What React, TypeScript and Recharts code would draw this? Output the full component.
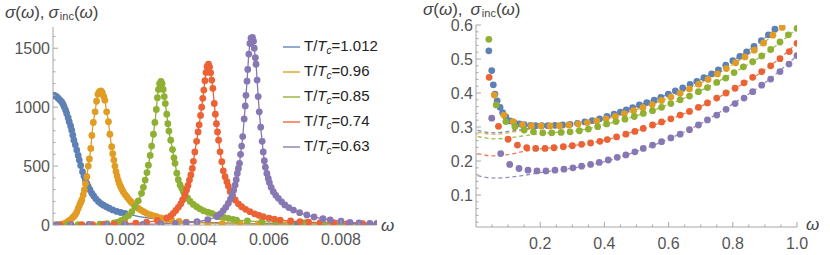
import React from 'react';
import { ComposedChart, Line, Scatter, XAxis, YAxis } from 'recharts';

const BLUE = '#5E81B5';
const ORANGE = '#E19C24';
const GREEN = '#8FB032';
const RED = '#EB6235';
const PURPLE = '#8778B3';
const AXIS = '#a6a6a6';
const LABEL = '#555555';
const FONT = '"Liberation Sans", Arial, sans-serif';

const temps = ['1.012', '0.96', '0.85', '0.74', '0.63'];
const colors = [BLUE, ORANGE, GREEN, RED, PURPLE];

// left panel: [omega, sigma]
const blueDots = [
  [0.00001, 1102], [0.00005, 1098], [0.0001, 1088], [0.00015, 1074], [0.0002, 1058], [0.00024, 1045],
  [0.00028, 1025], [0.00031, 1003], [0.00035, 975], [0.00038, 946], [0.00042, 910], [0.00045, 876],
  [0.00049, 840], [0.00052, 805], [0.00055, 762], [0.00058, 720], [0.00062, 680], [0.00066, 636],
  [0.0007, 590], [0.00073, 551], [0.00077, 505], [0.00082, 452], [0.00086, 415], [0.0009, 382],
  [0.00094, 353], [0.00098, 325], [0.00103, 297], [0.00108, 269], [0.00113, 246], [0.00119, 222],
  [0.00126, 200], [0.00133, 182], [0.0014, 168], [0.00148, 155], [0.00156, 142], [0.00166, 128],
  [0.00177, 115], [0.00188, 106], [0.002, 99], [0.0068, 9], [0.0085, 4],
];
const blueLineOnly = [
  [0.0023, 78], [0.0027, 58], [0.003, 45], [0.0035, 32], [0.004, 25], [0.0045, 19], [0.005, 15],
  [0.0055, 12], [0.006, 10.5], [0.0075, 7], [0.008, 5], [0.009, 3.5],
];
const orangeDots = [
  [0.00005, 1], [0.00015, 3], [0.00025, 8], [0.00035, 18], [0.00042, 30], [0.00047, 42], [0.00053, 58],
  [0.00058, 72], [0.00062, 88], [0.00066, 110], [0.0007, 141], [0.00074, 170], [0.00077, 190],
  [0.0008, 212], [0.00084, 255], [0.00087, 297], [0.0009, 350], [0.00094, 410], [0.00098, 500],
  [0.00101, 560], [0.00105, 650], [0.00108, 760], [0.00112, 870], [0.00117, 960], [0.00121, 1050],
  [0.00125, 1110], [0.00129, 1132], [0.00133, 1138], [0.00137, 1122], [0.00141, 1090], [0.00144, 1059],
  [0.00149, 960], [0.00154, 876], [0.00158, 770], [0.00163, 664], [0.00166, 605], [0.00169, 551],
  [0.00172, 500], [0.00175, 452], [0.00178, 415], [0.00181, 381], [0.00184, 352], [0.00188, 325],
  [0.00191, 305], [0.00195, 282], [0.002, 258], [0.00205, 240], [0.0021, 220], [0.00215, 202],
  [0.00219, 189], [0.00224, 174], [0.0023, 158], [0.00237, 141], [0.00244, 127], [0.00252, 113],
  [0.0026, 99], [0.0027, 88], [0.0028, 78], [0.00288, 71], [0.003, 60], [0.00316, 45], [0.0033, 38],
  [0.0035, 30], [0.0037, 25], [0.004, 20], [0.0043, 16], [0.0047, 12], [0.0052, 10], [0.0057, 8],
  [0.0065, 6], [0.0075, 4.5], [0.0085, 3],
];
const greenDots = [
  [0.0001, 1], [0.0004, 2], [0.0007, 3], [0.001, 5], [0.0013, 8], [0.0015, 12], [0.0017, 18],
  [0.0018, 25], [0.0019, 38], [0.002, 57], [0.0021, 80], [0.00219, 113], [0.00228, 155], [0.00237, 205],
  [0.00246, 269], [0.00251, 320], [0.00256, 381], [0.00261, 445], [0.00265, 508], [0.0027, 590],
  [0.00274, 670], [0.00279, 770], [0.00283, 870], [0.00287, 980], [0.0029, 1080], [0.00293, 1150],
  [0.00296, 1200], [0.003, 1218], [0.00303, 1200], [0.00306, 1150], [0.00309, 1090], [0.00312, 1030],
  [0.00316, 940], [0.00319, 860], [0.00322, 797], [0.00327, 720], [0.00332, 640], [0.00336, 570],
  [0.00339, 523], [0.00344, 440], [0.00348, 385], [0.00353, 340], [0.00358, 310], [0.00362, 285],
  [0.00367, 258], [0.00374, 228], [0.00381, 200], [0.0039, 175], [0.00399, 155], [0.00408, 137],
  [0.00418, 121], [0.0043, 108], [0.00441, 99], [0.00452, 83], [0.00464, 71], [0.00475, 64],
  [0.00487, 57], [0.005, 48], [0.0051, 42], [0.0054, 35], [0.0058, 29], [0.0062, 25], [0.0066, 22],
  [0.007, 19], [0.0075, 16], [0.008, 14], [0.0085, 12], [0.009, 11],
];
const redDots = [
  [0.0002, 1], [0.0005, 2], [0.0008, 3], [0.0011, 4], [0.0014, 6], [0.0017, 8], [0.002, 11], [0.0023, 16],
  [0.0026, 24], [0.0029, 38], [0.00316, 60], [0.00327, 78], [0.00334, 99], [0.00341, 124], [0.00348, 150],
  [0.00355, 180], [0.0036, 212], [0.00366, 252], [0.00371, 297], [0.00375, 335], [0.00379, 381],
  [0.00383, 425], [0.00387, 480], [0.0039, 540], [0.00394, 620], [0.00399, 710], [0.00403, 790],
  [0.00406, 850], [0.0041, 930], [0.00413, 1000], [0.00416, 1075], [0.00419, 1145], [0.00422, 1225],
  [0.00425, 1295], [0.00428, 1345], [0.00432, 1364], [0.00435, 1340], [0.00438, 1291], [0.00441, 1230],
  [0.00444, 1160], [0.00448, 1031], [0.00451, 940], [0.00454, 860], [0.00457, 790], [0.0046, 720],
  [0.00464, 621], [0.00469, 537], [0.00473, 460], [0.00478, 410], [0.00483, 367], [0.00487, 330],
  [0.00492, 285], [0.00499, 245], [0.00506, 212], [0.00515, 180], [0.00524, 155], [0.00535, 133],
  [0.00547, 113], [0.0056, 95], [0.00572, 82], [0.00584, 71], [0.006, 58], [0.00615, 50], [0.00631, 42],
  [0.0066, 34], [0.00686, 28], [0.0071, 24], [0.00742, 20], [0.0078, 17], [0.0082, 14], [0.0086, 12],
  [0.009, 10],
];
const purpleDots = [
  [0.0001, 0], [0.0005, 1], [0.001, 2], [0.0015, 3], [0.002, 4], [0.0025, 6], [0.003, 9], [0.0034, 14],
  [0.0037, 20], [0.004, 28], [0.0043, 45], [0.00455, 72], [0.00465, 95], [0.00473, 122], [0.0048, 150],
  [0.00487, 184], [0.00493, 220], [0.00498, 254], [0.00502, 295], [0.00506, 339], [0.00509, 385],
  [0.00512, 438], [0.00515, 480], [0.00518, 523], [0.00521, 600], [0.00524, 670], [0.00527, 750],
  [0.00531, 900], [0.00534, 1010], [0.00536, 1100], [0.00539, 1220], [0.00541, 1320], [0.00544, 1450],
  [0.00547, 1540], [0.0055, 1585], [0.00554, 1592], [0.00557, 1560], [0.00559, 1500], [0.00562, 1420],
  [0.00564, 1364], [0.00567, 1230], [0.0057, 1090], [0.00573, 960], [0.00577, 830], [0.00581, 710],
  [0.00584, 620], [0.00587, 545], [0.0059, 490], [0.00594, 438], [0.00598, 395], [0.00601, 360],
  [0.00606, 320], [0.00612, 282], [0.00619, 252], [0.00626, 226], [0.00635, 197], [0.00644, 170],
  [0.00655, 148], [0.00668, 127], [0.00685, 105], [0.00705, 85], [0.00725, 68], [0.0075, 53],
  [0.0077, 43], [0.008, 32], [0.00825, 22], [0.0085, 17], [0.0088, 14], [0.009, 12],
];

// right panel: [omega, sigma]
const blueDotsR = [
  [0.04, 0.524], [0.049, 0.466], [0.054, 0.424], [0.059, 0.397], [0.066, 0.377], [0.075, 0.358],
  [0.083, 0.342], [0.093, 0.33], [0.106, 0.318], [0.12, 0.312], [0.135, 0.309], [0.15, 0.307],
  [0.17, 0.305], [0.186, 0.304], [0.205, 0.304], [0.224, 0.304], [0.246, 0.305], [0.27, 0.306],
  [0.293, 0.308], [0.316, 0.311], [0.339, 0.315], [0.362, 0.319], [0.385, 0.324], [0.408, 0.331],
  [0.43, 0.338], [0.45, 0.344], [0.468, 0.35], [0.488, 0.357], [0.509, 0.365], [0.532, 0.372],
  [0.555, 0.379], [0.576, 0.387], [0.599, 0.397], [0.621, 0.406], [0.644, 0.415], [0.667, 0.425],
  [0.688, 0.434], [0.71, 0.445], [0.734, 0.456], [0.755, 0.468], [0.778, 0.482], [0.8, 0.495],
  [0.822, 0.508], [0.843, 0.521], [0.866, 0.537], [0.889, 0.554], [0.911, 0.571], [0.931, 0.588],
];
const orangeDotsR = [
  [0.057, 0.394], [0.087, 0.335], [0.116, 0.316], [0.145, 0.306], [0.173, 0.304], [0.202, 0.303],
  [0.231, 0.303], [0.26, 0.304], [0.289, 0.306], [0.318, 0.309], [0.347, 0.313], [0.376, 0.318],
  [0.405, 0.324], [0.434, 0.331], [0.462, 0.339], [0.491, 0.348], [0.52, 0.357], [0.549, 0.366],
  [0.578, 0.378], [0.607, 0.388], [0.636, 0.399], [0.665, 0.412], [0.694, 0.426], [0.723, 0.44],
  [0.752, 0.456], [0.78, 0.472], [0.809, 0.489], [0.838, 0.506], [0.867, 0.526], [0.896, 0.547],
  [0.925, 0.57], [0.954, 0.593],
];
const greenDotsR = [
  [0.04, 0.558], [0.063, 0.365], [0.093, 0.316], [0.121, 0.301], [0.15, 0.291], [0.179, 0.286],
  [0.208, 0.283], [0.236, 0.283], [0.265, 0.284], [0.293, 0.286], [0.322, 0.289], [0.35, 0.294],
  [0.379, 0.301], [0.407, 0.309], [0.436, 0.316], [0.464, 0.323], [0.493, 0.331], [0.521, 0.34],
  [0.55, 0.348], [0.578, 0.358], [0.607, 0.369], [0.636, 0.38], [0.665, 0.391], [0.693, 0.404],
  [0.721, 0.416], [0.75, 0.431], [0.778, 0.444], [0.804, 0.46], [0.833, 0.477], [0.862, 0.492],
  [0.89, 0.509], [0.918, 0.528], [0.947, 0.55], [0.973, 0.571], [1.0, 0.59],
];
const redDotsR = [
  [0.041, 0.446], [0.07, 0.302], [0.1, 0.264], [0.129, 0.247], [0.158, 0.239], [0.186, 0.237],
  [0.215, 0.237], [0.243, 0.239], [0.272, 0.242], [0.3, 0.245], [0.329, 0.249], [0.357, 0.253],
  [0.386, 0.258], [0.409, 0.263], [0.438, 0.271], [0.467, 0.279], [0.495, 0.287], [0.521, 0.296],
  [0.55, 0.306], [0.578, 0.315], [0.607, 0.324], [0.636, 0.335], [0.665, 0.346], [0.693, 0.358],
  [0.721, 0.371], [0.75, 0.385], [0.779, 0.4], [0.807, 0.414], [0.835, 0.43], [0.862, 0.446],
  [0.89, 0.463], [0.918, 0.48], [0.947, 0.501], [0.976, 0.522], [1.0, 0.546],
];
const purpleDotsR = [
  [0.049, 0.326], [0.077, 0.222], [0.105, 0.19], [0.134, 0.178], [0.162, 0.173], [0.19, 0.171],
  [0.218, 0.171], [0.246, 0.173], [0.274, 0.176], [0.302, 0.18], [0.329, 0.185], [0.357, 0.19],
  [0.384, 0.196], [0.412, 0.203], [0.44, 0.211], [0.467, 0.218], [0.495, 0.227], [0.521, 0.237],
  [0.55, 0.247], [0.578, 0.257], [0.607, 0.268], [0.636, 0.279], [0.665, 0.292], [0.693, 0.306],
  [0.721, 0.321], [0.75, 0.335], [0.779, 0.352], [0.807, 0.369], [0.835, 0.385], [0.862, 0.404],
  [0.89, 0.423], [0.918, 0.441], [0.947, 0.463], [0.975, 0.485], [1.0, 0.51],
];

// right panel dashed fits
const blueFit = [
  [0.005, 0.291], [0.03, 0.285], [0.06, 0.283], [0.1, 0.287], [0.15, 0.294], [0.2, 0.3], [0.25, 0.304],
  [0.3, 0.309], [0.4, 0.327], [0.5, 0.361], [0.6, 0.397], [0.7, 0.44], [0.8, 0.495], [0.9, 0.562], [0.94, 0.594],
];
const orangeFit = [
  [0.005, 0.285], [0.03, 0.281], [0.06, 0.279], [0.1, 0.283], [0.15, 0.291], [0.2, 0.298], [0.25, 0.303],
  [0.3, 0.307], [0.4, 0.323], [0.5, 0.351], [0.6, 0.386], [0.7, 0.429], [0.8, 0.484], [0.9, 0.55], [0.955, 0.597],
];
const greenFit = [
  [0.005, 0.272], [0.03, 0.268], [0.06, 0.265], [0.1, 0.268], [0.15, 0.274], [0.2, 0.28], [0.25, 0.284],
  [0.3, 0.287], [0.4, 0.307], [0.5, 0.333], [0.6, 0.366], [0.7, 0.407], [0.8, 0.458], [0.9, 0.515], [1.0, 0.59],
];
const redFit = [
  [0.005, 0.222], [0.03, 0.217], [0.06, 0.215], [0.1, 0.219], [0.15, 0.228], [0.2, 0.236], [0.25, 0.24],
  [0.3, 0.245], [0.4, 0.261], [0.5, 0.289], [0.6, 0.321], [0.7, 0.361], [0.8, 0.41], [0.9, 0.468], [1.0, 0.546],
];
const purpleFit = [
  [0.005, 0.157], [0.03, 0.152], [0.06, 0.15], [0.1, 0.152], [0.15, 0.158], [0.2, 0.166], [0.25, 0.172],
  [0.3, 0.179], [0.4, 0.198], [0.5, 0.228], [0.6, 0.265], [0.7, 0.31], [0.8, 0.368], [0.9, 0.43], [1.0, 0.51],
];

// ticks
const leftXMajor = [0.002, 0.004, 0.006, 0.008];
const leftXMinor = [0.0005, 0.001, 0.0015, 0.0025, 0.003, 0.0035, 0.0045, 0.005, 0.0055, 0.0065, 0.007, 0.0075, 0.0085];
const leftYMajor = [0, 500, 1000, 1500];
const leftYMinor = [100, 200, 300, 400, 600, 700, 800, 900, 1100, 1200, 1300, 1400, 1600];
const rightXMajor = [0.2, 0.4, 0.6, 0.8, 1.0];
const rightXMinor = [0.05, 0.1, 0.15, 0.25, 0.3, 0.35, 0.45, 0.5, 0.55, 0.65, 0.7, 0.75, 0.85, 0.9, 0.95];
const rightYMajor = [0.1, 0.2, 0.3, 0.4, 0.5, 0.6];
const rightYMinor = [0.02, 0.04, 0.06, 0.08, 0.12, 0.14, 0.16, 0.18, 0.22, 0.24, 0.26, 0.28, 0.32, 0.34, 0.36, 0.38, 0.42, 0.44, 0.46, 0.48, 0.52, 0.54, 0.56, 0.58];

const toPts = (rows: number[][]) => rows.map(([w, s]) => ({ w, s }));
const sorted = (rows: number[][]) => toPts([...rows].sort((a, b) => a[0] - b[0]));
const allTicks = (a: number[], b: number[]) => [...a, ...b].sort((x, y) => x - y);
const isMajor = (majors: number[], v: number) => majors.some((m) => Math.abs(m - v) < 1e-9);

const xTick = (majors: number[], fmt: (v: number) => string, dy: number) => (p: any) => {
  const { x, y, payload } = p;
  const major = isMajor(majors, payload.value);
  return (
    <g>
      <line x1={x} x2={x} y1={y} y2={y - (major ? 5 : 2.5)} stroke={AXIS} strokeWidth={1} />
      {major && (
        <text x={x} y={y + dy} textAnchor="middle" fill={LABEL} fontSize={16} fontFamily={FONT}>
          {fmt(payload.value)}
        </text>
      )}
    </g>
  );
};

const yTick = (majors: number[], fmt: (v: number) => string) => (p: any) => {
  const { x, y, payload } = p;
  const major = isMajor(majors, payload.value);
  return (
    <g>
      <line x1={x} x2={x + (major ? 5 : 2.5)} y1={y} y2={y} stroke={AXIS} strokeWidth={1} />
      {major && (
        <text x={x - 3} y={y + 5.7} textAnchor="end" fill={LABEL} fontSize={16} fontFamily={FONT}>
          {fmt(payload.value)}
        </text>
      )}
    </g>
  );
};

const dot = (color: string) => (p: any) => <circle cx={p.cx} cy={p.cy} r={3.4} fill={color} />;

const leftSeries = [
  { dots: blueDots, line: [...blueDots, ...blueLineOnly], color: BLUE },
  { dots: orangeDots, line: orangeDots, color: ORANGE },
  { dots: greenDots, line: greenDots, color: GREEN },
  { dots: redDots, line: redDots, color: RED },
  { dots: purpleDots, line: purpleDots, color: PURPLE },
];

const rightSeries = [
  { dots: blueDotsR, fit: blueFit, color: BLUE },
  { dots: orangeDotsR, fit: orangeFit, color: ORANGE },
  { dots: greenDotsR, fit: greenFit, color: GREEN },
  { dots: redDotsR, fit: redFit, color: RED },
  { dots: purpleDotsR, fit: purpleFit, color: PURPLE },
];

const AxisTitle = ({ left, top, gap }: { left: number; top: number; gap: number }) => (
  <div style={{ position: 'absolute', left, top, fontFamily: FONT, fontSize: 17, color: '#444', whiteSpace: 'nowrap', lineHeight: '17px' }}>
    <i>σ</i>(<i>ω</i>),<i style={{ marginLeft: gap }}>σ</i>
    <span style={{ fontSize: 11, lineHeight: '11px', position: 'relative', top: 2, marginLeft: 1 }}>inc</span>(<i>ω</i>)
  </div>
);

const OmegaLabel = ({ left, top }: { left: number; top: number }) => (
  <div style={{ position: 'absolute', left, top, fontFamily: FONT, fontSize: 17, color: '#444', fontStyle: 'italic', lineHeight: '17px' }}>
    ω
  </div>
);

export default function App() {
  return (
    <div style={{ position: 'absolute', left: 0, top: 0, width: 830, height: 255, background: '#fff', overflow: 'hidden' }}>
      <div style={{ position: 'absolute', left: 0, top: 0 }}>
        <ComposedChart width={420} height={255} margin={{ top: 27, right: 43, bottom: 0, left: 0 }}>
          <XAxis
            type="number"
            dataKey="w"
            domain={[0, 0.009]}
            allowDataOverflow
            ticks={allTicks(leftXMajor, leftXMinor)}
            interval={0}
            tickLine={false}
            tickSize={0}
            tickMargin={0}
            height={30}
            axisLine={{ stroke: AXIS }}
            tick={xTick(leftXMajor, (v) => v.toFixed(3), 20)}
          />
          <YAxis
            type="number"
            dataKey="s"
            domain={[0, 1680]}
            allowDataOverflow
            ticks={allTicks(leftYMajor, leftYMinor)}
            interval={0}
            tickLine={false}
            tickSize={0}
            tickMargin={0}
            width={53}
            axisLine={{ stroke: AXIS }}
            tick={yTick(leftYMajor, (v) => String(v))}
          />
          {leftSeries.map((s, i) => (
            <Line
              key={`l${i}`}
              data={sorted(s.line)}
              dataKey="s"
              type="monotone"
              stroke={s.color}
              strokeWidth={1.3}
              dot={false}
              activeDot={false}
              isAnimationActive={false}
            />
          ))}
          {leftSeries.map((s, i) => (
            <Scatter key={`d${i}`} data={toPts(s.dots)} dataKey="s" fill={s.color} shape={dot(s.color)} isAnimationActive={false} />
          ))}
        </ComposedChart>
      </div>

      <div style={{ position: 'absolute', left: 420, top: 0 }}>
        <ComposedChart width={410} height={255} margin={{ top: 25, right: 33, bottom: 0, left: 0 }}>
          <XAxis
            type="number"
            dataKey="w"
            domain={[0, 1]}
            allowDataOverflow
            ticks={allTicks(rightXMajor, rightXMinor)}
            interval={0}
            tickLine={false}
            tickSize={0}
            tickMargin={0}
            height={28}
            axisLine={{ stroke: AXIS }}
            tick={xTick(rightXMajor, (v) => v.toFixed(1), 22)}
          />
          <YAxis
            type="number"
            dataKey="s"
            domain={[0.006, 0.6]}
            allowDataOverflow
            ticks={allTicks(rightYMajor, rightYMinor)}
            interval={0}
            tickLine={false}
            tickSize={0}
            tickMargin={0}
            width={56}
            axisLine={{ stroke: AXIS }}
            tick={yTick(rightYMajor, (v) => v.toFixed(1))}
          />
          {rightSeries.map((s, i) => (
            <Line
              key={`f${i}`}
              data={toPts(s.fit)}
              dataKey="s"
              type="monotone"
              stroke={s.color}
              strokeOpacity={0.85}
              strokeWidth={1.3}
              strokeDasharray="4 3"
              dot={false}
              activeDot={false}
              isAnimationActive={false}
            />
          ))}
          {rightSeries.map((s, i) => (
            <Scatter key={`r${i}`} data={toPts(s.dots)} dataKey="s" fill={s.color} shape={dot(s.color)} isAnimationActive={false} />
          ))}
        </ComposedChart>
      </div>

      <AxisTitle left={5} top={4} gap={4} />
      <AxisTitle left={423} top={1} gap={8} />
      <OmegaLabel left={381} top={217} />
      <OmegaLabel left={806} top={216} />

      <div style={{ position: 'absolute', left: 283, top: 34, fontFamily: FONT, fontSize: 15, color: '#222' }}>
        {temps.map((t, i) => (
          <div key={t} style={{ display: 'flex', alignItems: 'center', height: 25, lineHeight: '18px' }}>
            <svg width={17} height={4} style={{ marginRight: 4 }}>
              <line x1={0} x2={17} y1={2} y2={2} stroke={colors[i]} strokeWidth={1.6} strokeOpacity={0.85} />
            </svg>
            <span style={{ whiteSpace: 'nowrap' }}>
              T/<i>T</i>
              <i style={{ fontSize: 10, position: 'relative', top: 3 }}>c</i>={t}
            </span>
          </div>
        ))}
      </div>
    </div>
  );
}
